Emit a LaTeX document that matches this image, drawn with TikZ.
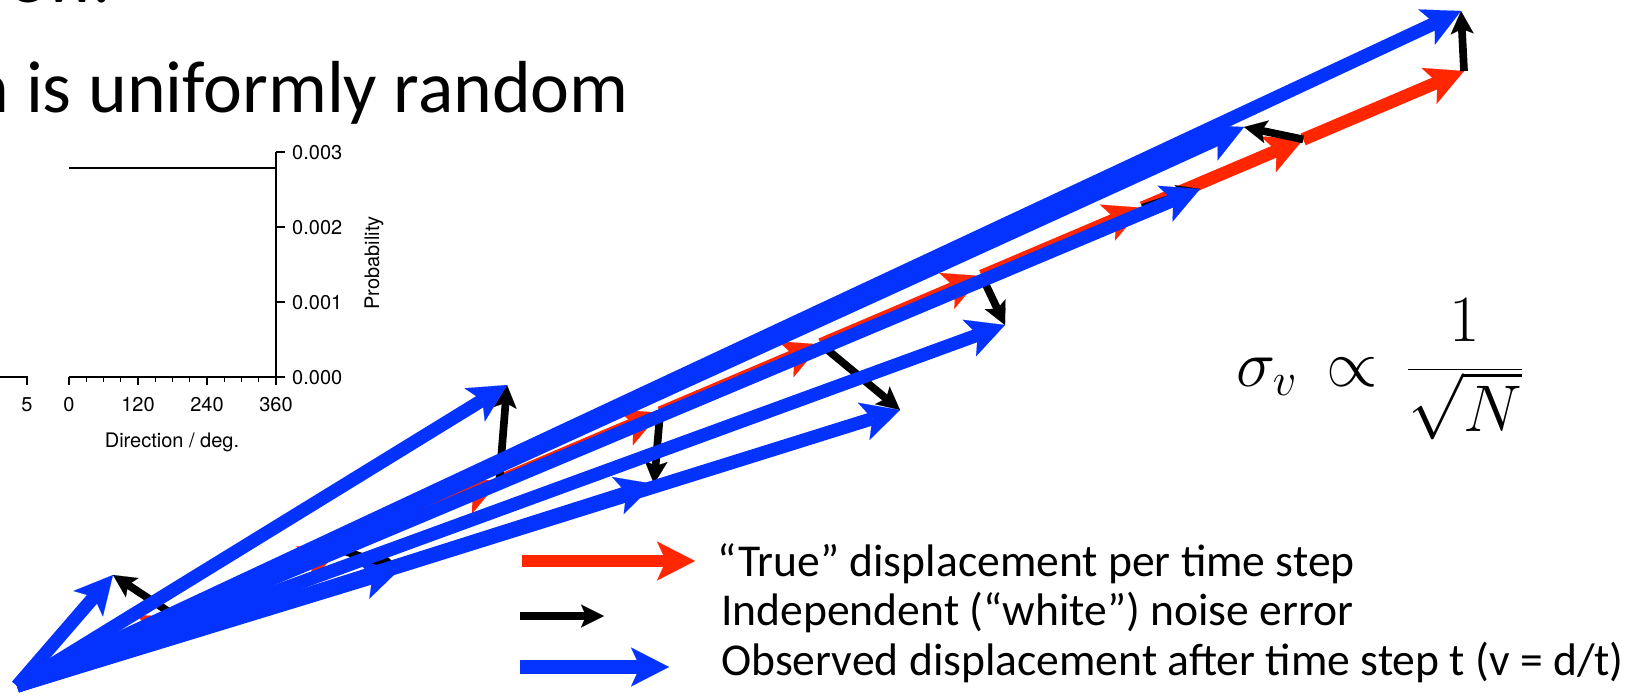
\RequirePackage{fix-cm}
\documentclass[tikz,border=0pt]{standalone}
\usepackage[no-math]{fontspec}
\setmainfont{Carlito}
\newfontfamily\helv{TeX Gyre Heros}
\usetikzlibrary{arrows.meta}
\definecolor{tred}{HTML}{FF2600}
\definecolor{tblue}{HTML}{0433FF}
\begin{document}
\begin{tikzpicture}[x=1pt,y=-1pt,
  redarr/.style={draw=tred, line width=12.7pt, -{Stealth[length=38pt,width=39pt,inset=9pt,line width=0.1pt]}},
  bluearr/.style={draw=tblue, line width=13.3pt, -{Stealth[length=38pt,width=39pt,inset=9pt,line width=0.1pt]}},
  blkarr/.style={draw=black, line width=7.7pt, -{Stealth[length=23pt,width=23pt,inset=5pt,line width=0.1pt]}},
  axisline/.style={draw=black, line width=1.3pt},
  plotlabel/.style={inner sep=0pt, font=\helv\fontsize{20}{22}\selectfont},
  legendtext/.style={inner sep=0pt, anchor=base west, font=\fontsize{45.6}{50}\selectfont},
]
\useasboundingbox (0,0) rectangle (1629,696);
\clip (0,0) rectangle (1629,696);
\fill[white] (0,0) rectangle (1629,696);

% title text (clipped at left / top)
\node[inner sep=0pt, anchor=base west, font=\fontsize{73.7}{80}\selectfont] (prev) at (8,2) {ew.};
\node[inner sep=0pt, anchor=base east, font=\fontsize{73.7}{80}\selectfont] (title) at (629,112) {n is uniformly random};

% plot
\draw[axisline] (69,168) -- (276,168);
\draw[axisline] (276,152) -- (276,385);
\foreach \yy in {152,227,302,377} \draw[axisline] (276,\yy) -- (285,\yy);
\draw[axisline] (69,377) -- (276,377);
\foreach \xx in {69,138,207} \draw[axisline] (\xx,377) -- (\xx,385);
\foreach \xx in {86.25,103.5,120.75,155.25,172.5,189.75,224.25,241.5,258.75} \draw[axisline] (\xx,377) -- (\xx,382);
\draw[axisline] (0,377) -- (27,377) -- (27,385);
\node[plotlabel, anchor=west] (p3) at (292,153) {0.003};
\node[plotlabel, anchor=west] (p2) at (292,228) {0.002};
\node[plotlabel, anchor=west] (p1) at (292,303) {0.001};
\node[plotlabel, anchor=west] (p0) at (292,378) {0.000};
\node[plotlabel, rotate=90] (prob) at (374,263) {Probability};
\node[plotlabel] (x0) at (69,405) {0};
\node[plotlabel] (x1) at (138,405) {120};
\node[plotlabel] (x2) at (207,405) {240};
\node[plotlabel] (x3) at (276,405) {360};
\node[plotlabel] (x5) at (27,405) {5};
\node[plotlabel] (xlab) at (172,442) {Direction / deg.};

% formula
\node[inner sep=0pt, anchor=base west, font=\fontsize{66}{70}\selectfont] (formula) at (1236,386) {$\displaystyle\sigma_v\,\propto\,\frac{1}{\sqrt{N}}$};

% points
\coordinate (O) at (17,686);
\coordinate (R0) at (17,686);
\coordinate (R1) at (177.8,617.7);
\coordinate (R2) at (338.6,549.3);
\coordinate (R3) at (499.3,481.0);
\coordinate (R4) at (660.1,412.7);
\coordinate (R5) at (820.9,344.4);
\coordinate (R6) at (981.7,276.0);
\coordinate (R7) at (1142.4,207.7);
\coordinate (R8) at (1303.2,139.4);
\coordinate (R9) at (1464,71);
\coordinate (B1) at (113,575);
\coordinate (B2) at (400,569);
\coordinate (B3) at (507,385);
\coordinate (B4) at (654,484);
\coordinate (B5) at (900,410);
\coordinate (B6) at (1005,325);
\coordinate (B7) at (1200,189);
\coordinate (B8) at (1244,127);
\coordinate (B9) at (1461,11);

% true displacements
\foreach \i [evaluate=\i as \j using int(\i-1)] in {1,...,9}
  \draw[redarr] (R\j) -- (R\i);
% noise
\foreach \i in {1,...,9}
  \draw[blkarr] (R\i) -- (B\i);
% observed
\foreach \i in {1,...,9}
  \draw[bluearr] (O) -- (B\i);

% legend
\coordinate (lr0) at (522,561); \coordinate (lr1) at (695,561);
\coordinate (lk0) at (520,616); \coordinate (lk1) at (604,616);
\coordinate (lb0) at (520,667); \coordinate (lb1) at (669,667);
\draw[redarr] (lr0) -- (lr1);
\draw[blkarr] (lk0) -- (lk1);
\draw[bluearr] (lb0) -- (lb1);
\node[legendtext] (l1) at (717,576) {“True” displacement per time step};
\node[legendtext] (l2) at (721,625) {Independent (“white”) noise error};
\node[legendtext] (l3) at (721,675) {Observed displacement after time step t (v = d/t)};
\end{tikzpicture}
\end{document}
